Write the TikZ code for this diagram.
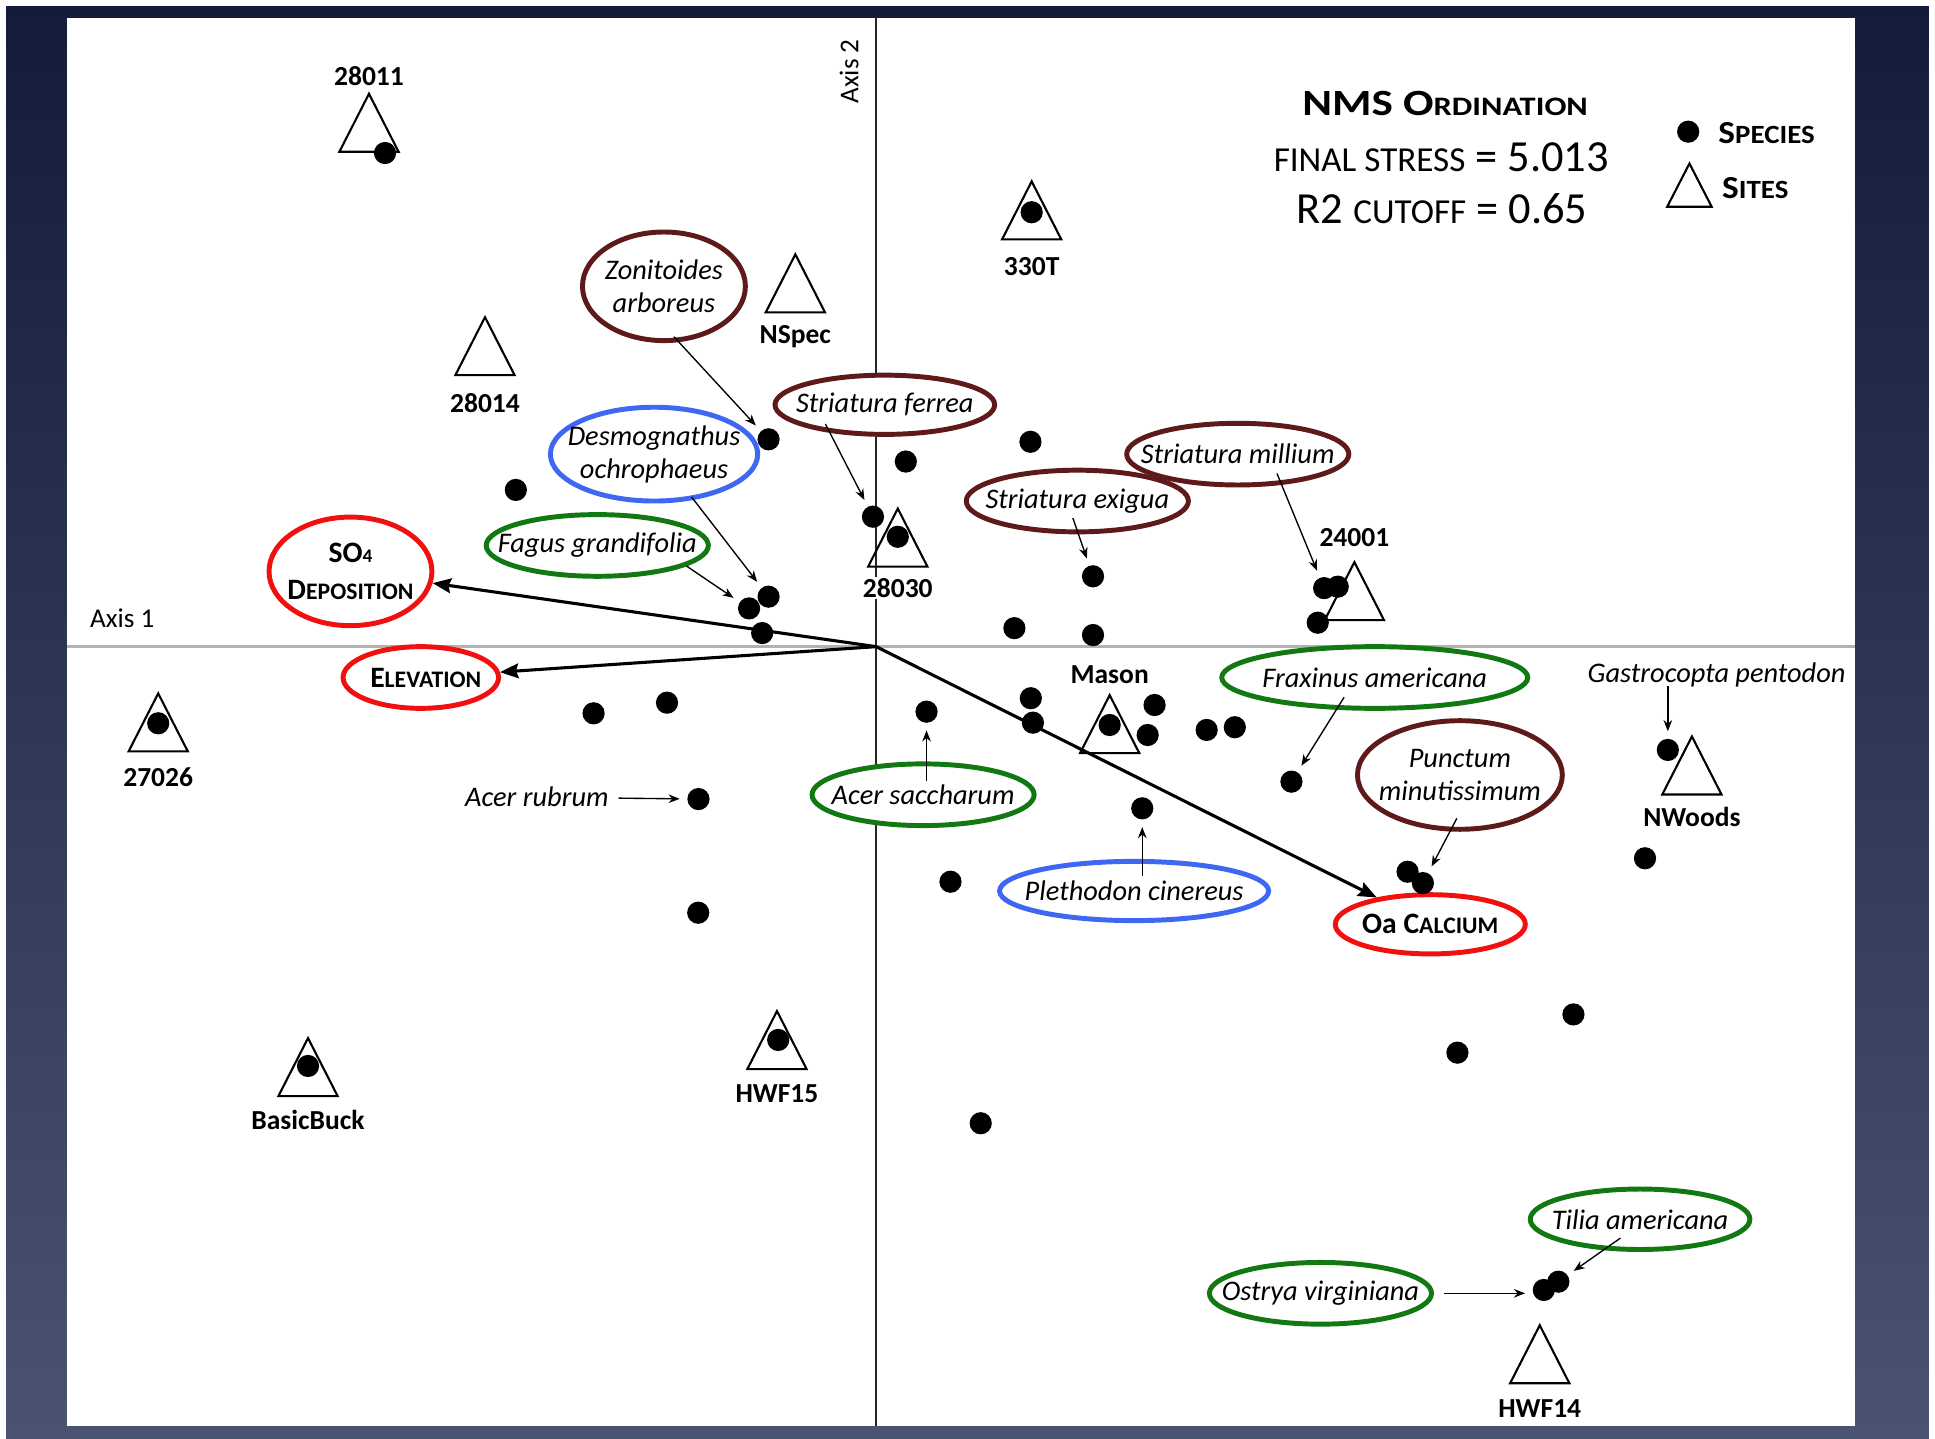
\documentclass[tikz,border=0pt]{standalone}
\usepackage{fontspec}
\setmainfont{Carlito}
\usepackage{graphicx}
\usetikzlibrary{shapes.geometric,arrows.meta}

\definecolor{snail}{HTML}{5E1A1A}
\definecolor{sala}{HTML}{3F68F2}
\definecolor{tree}{HTML}{127812}
\definecolor{envr}{HTML}{F01010}
\definecolor{bgtop}{HTML}{141C3A}
\definecolor{bgbot}{HTML}{4A5372}

\newcommand{\smc}[1]{\scalebox{0.8}{#1}}

\begin{document}
\begin{tikzpicture}[x=1pt, y=-1pt,
    ell/.style={ellipse, draw=#1, fill=white, line width=4pt, inner sep=0pt,
      minimum width=180pt, minimum height=50pt},
    spl/.style={font=\fontsize{23}{27}\selectfont\itshape, align=center, inner sep=2pt},
    envl/.style={font=\fontsize{24}{30}\selectfont\bfseries, align=center, inner sep=1pt},
    sp/.style={circle, fill=black, inner sep=0pt, minimum size=18pt},
    site/.style={line width=1.7pt},
    sitel/.style={font=\fontsize{22.3}{26}\selectfont\bfseries, fill=white, inner sep=1pt},
    call/.style={line width=1.1pt, -{Stealth[length=9pt,width=7pt]}, shorten >=6pt},
    vec/.style={line width=2.5pt, -{Stealth[length=15pt,width=12pt,inset=2pt]}}]
  \useasboundingbox (0,0) rectangle (1568,1166);
  \fill[white] (0,0) rectangle (1568,1166);
  \shade[top color=bgtop, bottom color=bgbot] (5,5) rectangle (1563,1166);
  \node[fill=white, inner sep=0pt, minimum width=1449pt, minimum height=1141pt,
    anchor=north west] (pnl) at (54,14) {};

  % axes
  \coordinate (o) at (710,524);
  \draw[line width=2pt, gray!60] (pnl.west |- o) -- (pnl.east |- o);
  \draw[line width=1.8pt, black!85] (o |- pnl.north) -- (o |- pnl.south);
  \node[font=\fontsize{22}{26}\selectfont] (ax1) at (99,501) {Axis 1};
  \node[font=\fontsize{22}{26}\selectfont, rotate=90] (ax2) at (688,58) {Axis 2};

  % sites
  \foreach \x/\y/\ly/\lab in {299/99.5/62/28011, 393/280.5/327/28014,
      644.5/229.6/272.8/NSpec, 836/170.5/216/330T, 727.5/435.6/476.6/28030,
      1097.5/479/436/24001, 128.2/585.4/629.4/27026, 899.2/586.8/547/Mason,
      1371/620.3/661.8/NWoods, 249.6/864.7/907.6/BasicBuck,
      629.6/842.8/886.5/HWF15, 1247.7/1097.4/1141.2/HWF14} {
    \draw[site] (\x,\y) ++(0,-23.5) -- ++(24,47) -- ++(-48,0) -- cycle;
    \node[sitel] (l-\lab) at (\x,\ly) {\lab};
  }

  % species and gradients
  \node[ell=snail, minimum width=132pt, minimum height=88pt] (zon) at (538,232) {};
  \node[spl] (zon-t) at (zon) {Zonitoides\\arboreus};
  \node[ell=snail, minimum width=178pt, minimum height=48pt] (fer) at (717,328) {};
  \node[spl] (fer-t) at (fer) {Striatura ferrea};
  \node[ell=sala, minimum width=168pt, minimum height=76pt] (des) at (530,368) {};
  \node[spl] (des-t) at (des) {Desmognathus\\ochrophaeus};
  \node[ell=tree] (fag) at (484,442) {};
  \node[spl] (fag-t) at (fag) {Fagus grandifolia};
  \node[ell=snail] (mil) at (1003,368) {};
  \node[spl] (mil-t) at (mil) {Striatura millium};
  \node[ell=snail] (exi) at (873,406) {};
  \node[spl] (exi-t) at (exi) {Striatura exigua};
  \node[ell=tree, minimum width=248pt] (fra) at (1114,549) {};
  \node[spl] (fra-t) at (fra) {Fraxinus americana};
  \node[ell=snail, minimum width=166pt, minimum height=88pt] (pun) at (1183,628) {};
  \node[spl] (pun-t) at (pun) {Punctum\\minutissimum};
  \node[ell=tree] (sac) at (748,644) {};
  \node[spl] (sac-t) at (sac) {Acer saccharum};
  \node[ell=sala, minimum width=218pt, minimum height=48pt] (ple) at (919,722) {};
  \node[spl] (ple-t) at (ple) {Plethodon cinereus};
  \node[ell=tree, minimum width=178pt, minimum height=49pt] (til) at (1329,988) {};
  \node[spl] (til-t) at (til) {Tilia americana};
  \node[ell=tree] (ost) at (1070,1048) {};
  \node[spl] (ost-t) at (ost) {Ostrya virginiana};
  \node[spl] (gas) at (1391,547) {Gastrocopta pentodon};
  \node[spl] (rub) at (435,646) {Acer rubrum};

  \node[ell=envr, minimum width=132pt, minimum height=88pt] (so4) at (284,463) {};
  \node[envl] (so4-t) at (so4) {SO\scalebox{0.65}{4}\\D\smc{EPOSITION}};
  \node[ell=envr, minimum width=126pt] (ele) at (341,549) {};
  \node[envl] (ele-t) at (345,549) {E\smc{LEVATION}};
  \node[ell=envr, minimum width=154pt, minimum height=48pt] (oac) at (1159,749) {};
  \node[envl] (oac-t) at (oac) {Oa C\smc{ALCIUM}};

  \draw[vec] (o) -- (so4);
  \draw[vec] (o) -- (ele);
  \draw[vec] (o) -- (oac);

  % species points
  \foreach \n/\x/\y in {1/312/124, 2/836/172, 3/622.8/356, 4/734/374, 5/835/358,
      6/418/397, 7/707.4/418.7, 8/727.5/435, 9/885.7/467, 10/1073/476.6,
      11/1084/475.4, 12/1067.8/504.6, 13/622.8/483.5, 14/607/493, 15/617.6/513,
      16/822/509, 17/885.7/514.6, 18/481/578, 19/540.5/569.4, 20/128.2/586.1,
      21/750.8/576.7, 22/835.3/565.8, 23/837/585.6, 24/899.2/587.5, 25/935.6/571.3,
      26/930/595.6, 27/977.8/591.5, 28/1000.6/589.3, 29/1046.5/633.4,
      30/1351.5/607.7, 31/566/647.5, 32/925.6/655, 33/1333/695.5, 34/1140.6/706.4,
      35/1153/715.6, 36/770.2/714.5, 37/565.8/739.6, 38/1275/822, 39/1181/853,
      40/249.6/863.8, 41/630.6/842.7, 42/794.7/910.2, 43/1251/1045.3,
      44/1262.8/1038.6}
    \node[sp] (d\n) at (\x,\y) {};

  \draw[call, shorten <=-6pt] (zon.-75) -- (d3);
  \draw[call, shorten <=-8pt] (fer.-153) -- (d7);
  \draw[call, shorten <=-3pt] (des.-49) -- (d13);
  \draw[call] (fag.-13) -- (d14);
  \draw[call, shorten <=-10pt] (mil.-35) -- (d10);
  \draw[call, shorten <=-14pt] (exi.-88) -- (d9);
  \draw[call, shorten <=-12pt] (fra.-140) -- (d29);
  \draw[call, shorten <=-12pt] (pun.-100) -- (d35);
  \draw[call, shorten <=-16pt] (sac.north -| d21) -- (d21);
  \draw[call, shorten <=-14pt] (ple.north -| d32) -- (d32);
  \draw[call, shorten <=-17pt] (til.-140) -- (d44);
  \draw[call, shorten <=8pt] (ost.east) -- (ost.east -| d43.west);
  \draw[call, shorten <=-3pt] (gas.south -| d30) -- (d30);
  \draw[call, shorten <=6pt] (rub) -- (d31);

  % title and legend
  \node[anchor=base, font=\fontsize{30}{36}\selectfont\bfseries] (ttl) at (1171,93.2)
    {\scalebox{1.22}[1]{NMS O\scalebox{0.72}{RDINATION}}};
  \node[anchor=base, font=\fontsize{36}{40}\selectfont] (strs) at (1168,139)
    {\scalebox{0.79}{FINAL STRESS} = 5.013};
  \node[anchor=base, font=\fontsize{36}{40}\selectfont] (cut) at (1168.5,181)
    {R2 \scalebox{0.79}{CUTOFF} = 0.65};
  \node[sp] (lgd-d) at (1368,106.7) {};
  \draw[site] (1369,150) ++(0,-17.5) -- ++(18,35) -- ++(-36,0) -- cycle;
  \node[anchor=base west, font=\fontsize{26}{30}\selectfont\bfseries] (lgd-sp) at (1389,116)
    {\scalebox{1.1}[1]{S\scalebox{0.82}{PECIES}}};
  \node[anchor=base west, font=\fontsize{26}{30}\selectfont\bfseries] (lgd-si) at (1392,160.7)
    {\scalebox{1.1}[1]{S\scalebox{0.82}{ITES}}};
\end{tikzpicture}
\end{document}
